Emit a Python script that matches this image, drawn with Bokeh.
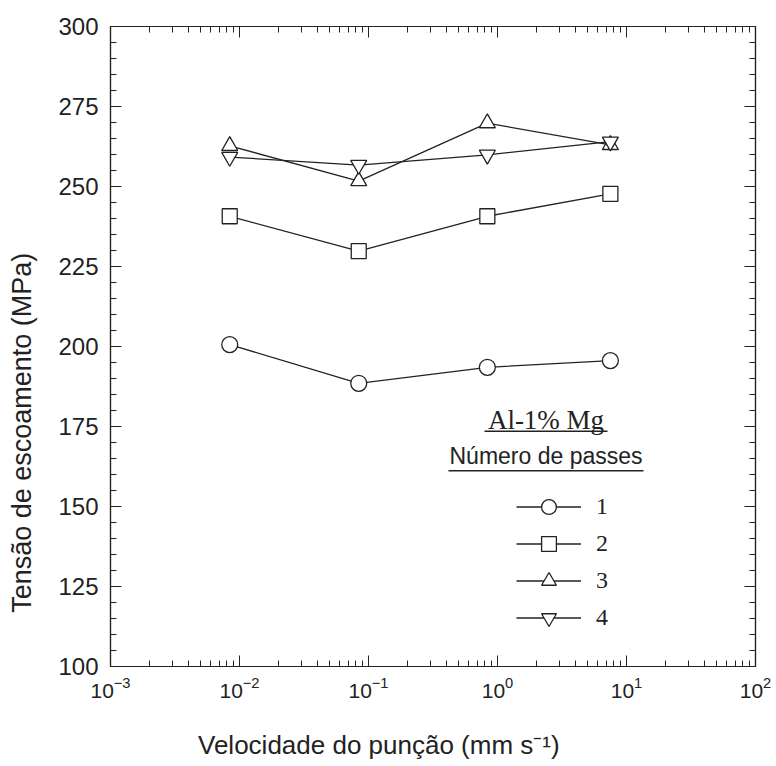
from bokeh.plotting import figure
from bokeh.models import (LinearAxis, LogAxis, SingleIntervalTicker, LogTicker, Label,
                          Legend, LegendItem, BoxAnnotation, CustomJSTickFormatter, Range1d)
from bokeh.embed import file_html
from bokeh.resources import INLINE

# ---- data ----
speed = [0.0084, 0.084, 0.834, 7.5]          # mm/s
passes = ["1", "2", "3", "4"]
stress_1 = [200.6, 188.5, 193.5, 195.6]      # MPa
stress_2 = [240.7, 229.8, 240.7, 247.7]
stress_3 = [262.7, 251.7, 269.8, 263.0]
stress_4 = [259.2, 256.7, 259.9, 264.0]
series = [stress_1, stress_2, stress_3, stress_4]
markers = ["circle", "square", "triangle", "inverted_triangle"]
marker_sizes = [16, 15, 16, 16]
x_lim = (1e-3, 1e2)
y_lim = (100, 300)
y_major_step = 25
y_minor_count = 5

INK = "#222222"
SANS = "Liberation Sans"
SERIF = "Liberation Serif"
NB = "\u00a0"

p = figure(width=776, height=766, x_axis_type="log",
           x_range=Range1d(*x_lim), y_range=Range1d(*y_lim),
           output_backend="svg", toolbar_location=None,
           min_border_left=110, min_border_right=21,
           min_border_top=26, min_border_bottom=100)
p.grid.visible = False
p.outline_line_color = INK
p.outline_line_width = 1.2
p.background_fill_color = "white"
p.border_fill_color = "white"

def style_axis(ax, font_size, show_labels=True):
    ax.axis_line_color = INK
    ax.axis_line_width = 1.2
    ax.major_tick_line_color = INK
    ax.minor_tick_line_color = INK
    ax.major_tick_in = 11
    ax.major_tick_out = 0
    ax.minor_tick_in = 6
    ax.minor_tick_out = 0
    ax.major_label_text_font = SANS
    ax.major_label_text_font_size = font_size
    ax.major_label_text_color = INK
    ax.major_label_standoff = 10
    if not show_labels:
        ax.formatter = CustomJSTickFormatter(code="return ''")
        ax.major_label_standoff = 0

# bottom (log) axis
xa = p.xaxis[0]
xa.ticker = LogTicker(num_minor_ticks=10)
style_axis(xa, "21px")
xa.axis_label = "Velocidade do punção (mm s⁻¹)" + NB * 15
xa.axis_label_text_font = SANS
xa.axis_label_text_font_size = "26px"
xa.axis_label_text_font_style = "normal"
xa.axis_label_text_color = INK
xa.axis_label_standoff = 29

# left axis
ya = p.yaxis[0]
ya.ticker = SingleIntervalTicker(interval=y_major_step, num_minor_ticks=y_minor_count)
style_axis(ya, "24px")
ya.major_label_standoff = 12
ya.axis_label = "Tensão de escoamento (MPa)" + NB * 23
ya.axis_label_text_font = SANS
ya.axis_label_text_font_size = "27px"
ya.axis_label_text_font_style = "normal"
ya.axis_label_text_color = INK
ya.axis_label_standoff = 18

# mirrored top/right axes
top = LogAxis(ticker=LogTicker(num_minor_ticks=10))
style_axis(top, "1px", show_labels=False)
p.add_layout(top, "above")
right = LinearAxis(ticker=SingleIntervalTicker(interval=y_major_step, num_minor_ticks=y_minor_count))
style_axis(right, "1px", show_labels=False)
p.add_layout(right, "right")

# series
items = []
for ys, mk, ms, lab in zip(series, markers, marker_sizes, passes):
    lr = p.line(speed, ys, line_color=INK, line_width=1.3)
    sr = p.scatter(speed, ys, marker=mk, size=ms, fill_color="white",
                   line_color=INK, line_width=1.3)
    items.append(LegendItem(label=lab, renderers=[lr, sr]))

legend = Legend(items=items, location=(406, 30), orientation="vertical",
                glyph_width=65, glyph_height=37, label_height=20, spacing=0,
                padding=0, margin=0, label_standoff=15,
                label_text_font=SERIF, label_text_font_size="24px",
                label_text_color=INK,
                background_fill_alpha=0, border_line_alpha=0)
p.add_layout(legend, "center")

# legend titles (underlined)
p.add_layout(Label(x=435.5, y=247, x_units="screen", y_units="screen",
                   text="Al-1% Mg", text_font=SERIF, text_font_size="27px",
                   text_color=INK, text_align="center", text_baseline="middle"))
p.add_layout(BoxAnnotation(left=374, right=497, bottom=234.5, top=236,
                           left_units="screen", right_units="screen",
                           bottom_units="screen", top_units="screen",
                           fill_color=INK, fill_alpha=1, line_alpha=0))
p.add_layout(Label(x=435.5, y=211, x_units="screen", y_units="screen",
                   text="Número de passes", text_font=SANS, text_font_size="23px",
                   text_color=INK, text_align="center", text_baseline="middle"))
p.add_layout(BoxAnnotation(left=338, right=533, bottom=195, top=196.5,
                           left_units="screen", right_units="screen",
                           bottom_units="screen", top_units="screen",
                           fill_color=INK, fill_alpha=1, line_alpha=0))

open("out.html", "w").write(file_html(p, INLINE))
